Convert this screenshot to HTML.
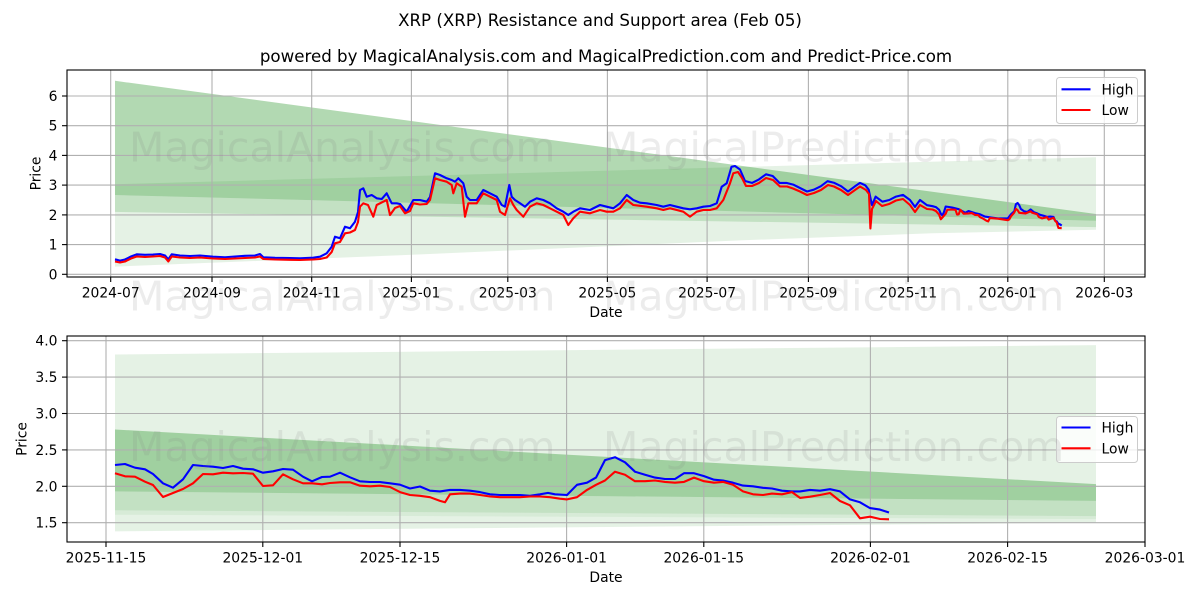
<!DOCTYPE html>
<html>
<head>
<meta charset="utf-8">
<style>
  html, body { margin: 0; padding: 0; background: #ffffff; }
  svg { display: block; }
  text { font-family: "DejaVu Sans", "Liberation Sans", sans-serif; fill: #000; }
  text.wm { fill: #808080; fill-opacity: 0.15; }
</style>
</head>
<body>
<svg width="1200" height="600" viewBox="0 0 1200 600" xmlns="http://www.w3.org/2000/svg">
  <defs>
    <clipPath id="c1"><rect x="67" y="70" width="1078" height="207"/></clipPath>
    <clipPath id="c2"><rect x="67" y="336" width="1078" height="206"/></clipPath>
  </defs>
  <rect x="0" y="0" width="1200" height="600" fill="#ffffff"/>

  <!-- Titles -->
  <text x="600" y="26" font-size="16.67" text-anchor="middle">XRP (XRP) Resistance and Support area (Feb 05)</text>
  <text x="606" y="62" font-size="16.67" text-anchor="middle">powered by MagicalAnalysis.com and MagicalPrediction.com and Predict-Price.com</text>

  <!-- ================= TOP CHART ================= -->
  <g clip-path="url(#c1)">
    <polygon points="115,184.2 1096,157.2 1096,229.7 932.6,233.3 740,240.4 400,255.3 115,266.6" fill="#008000" fill-opacity="0.1"/>
    <polygon points="115,80.8 1096,214.0 1096,220.8 115,195.0" fill="#008000" fill-opacity="0.3"/>
    <polygon points="115,195.0 1096,220.8 1096,227.1 115,211.9" fill="#008000" fill-opacity="0.15"/>
  </g>
  <g stroke="#b0b0b0" stroke-width="1.1">
    <line x1="110.7" y1="70" x2="110.7" y2="277"/>
    <line x1="212" y1="70" x2="212" y2="277"/>
    <line x1="311.7" y1="70" x2="311.7" y2="277"/>
    <line x1="411.4" y1="70" x2="411.4" y2="277"/>
    <line x1="507.8" y1="70" x2="507.8" y2="277"/>
    <line x1="607.4" y1="70" x2="607.4" y2="277"/>
    <line x1="707.1" y1="70" x2="707.1" y2="277"/>
    <line x1="808.4" y1="70" x2="808.4" y2="277"/>
    <line x1="908.1" y1="70" x2="908.1" y2="277"/>
    <line x1="1007.8" y1="70" x2="1007.8" y2="277"/>
    <line x1="1104.3" y1="70" x2="1104.3" y2="277"/>
    <line x1="67" y1="274.3" x2="1145" y2="274.3"/>
    <line x1="67" y1="244.6" x2="1145" y2="244.6"/>
    <line x1="67" y1="214.9" x2="1145" y2="214.9"/>
    <line x1="67" y1="185.1" x2="1145" y2="185.1"/>
    <line x1="67" y1="155.4" x2="1145" y2="155.4"/>
    <line x1="67" y1="125.7" x2="1145" y2="125.7"/>
    <line x1="67" y1="96" x2="1145" y2="96"/>
  </g>
  <g clip-path="url(#c1)" fill="none" stroke-width="2.1" stroke-linejoin="round">
    <path stroke="#0000ff" d="M115,259.3 L120,260.6 L125,259.5 L131,256.5 L136.7,254.3 L145,254.8 L153,254.5 L160,254 L165,255.5 L168.3,259.3 L171.7,254.3 L180,255.5 L190,256 L200,255.5 L213,256.7 L225,257.3 L235,256.5 L245,255.8 L255,255.5 L260,254 L263.3,257.3 L275,257.8 L290,258 L300,258.3 L313.3,257.7 L320,256.7 L326.7,253.3 L331.7,246.7 L335,236.7 L340,238.3 L345,226.7 L350,228.3 L355,221.7 L358,212 L360,190 L363.3,188.3 L366.7,196.7 L371.7,195 L376.7,198.3 L381.7,199 L386.7,193.3 L391.7,203.3 L396.7,203.3 L400,204 L406.7,211.7 L413.3,200 L420,200 L426.7,201.7 L430,197 L435,173.3 L440,175 L446.7,178.3 L451.7,180 L455,181.7 L458.3,178.3 L463.3,183.3 L466.7,196.7 L470,200 L476.7,200 L483.3,190 L490,193.3 L496.7,196.7 L501.7,205 L505,206.7 L509.3,185 L511.7,196.7 L515,200 L520,203.3 L525,206.7 L530,201.7 L536.7,198.3 L543.3,200 L550,203.3 L556.7,208.3 L563.3,211.7 L568.3,215 L573.3,211.7 L580,208.3 L590,210 L600,205 L606.7,206.7 L613.3,208.3 L620,203.3 L626.7,195 L633.3,200 L640,202.7 L646.7,203.3 L656.7,205 L663.3,206.7 L670,205 L676.7,206.7 L683.3,208.3 L690,209.3 L696.7,208.3 L703.3,206.7 L710,206 L716.7,203.3 L721.7,186.7 L726.7,183.3 L731.5,166.8 L735,166 L740,169.5 L745,181 L752,182.9 L759,179.4 L766,174.3 L772.7,176 L779.5,182.9 L786.4,182.9 L793.2,184.6 L800,188 L807,191.5 L813.8,189.7 L820.7,186.3 L827.5,181.2 L834.4,182.9 L841.3,186.3 L848,191.5 L855,186.3 L860,182.9 L865.3,185.3 L868.7,189.7 L872,205.2 L875.6,196.6 L882.4,201.7 L889.3,200 L896,196.6 L903,194.9 L910,200 L915,206.9 L920,200 L927,205.2 L932.6,206.2 L935.9,207.1 L939.1,209.8 L940.8,213.7 L942.4,215.5 L944,211.9 L945.7,206.5 L952.2,207.5 L958.7,209.2 L965.3,212.8 L968.5,211 L975.1,213.1 L980,214.3 L984.9,216.6 L991.4,217.5 L998,218.4 L1007.8,218.4 L1011,214.3 L1014.3,211.3 L1015.9,204.2 L1017.6,203 L1019.2,205.1 L1020.8,208.9 L1024.1,211.3 L1027.4,212 L1030.6,209.5 L1033.9,212.2 L1037.2,213.4 L1040.4,214.9 L1043.7,215.8 L1047,216.9 L1050.2,216.6 L1053.5,216.9 L1055.2,220.8 L1056.8,221.4 L1058.4,223.8 L1060.1,224.4 L1061.7,225.6"/>
    <path stroke="#ff0000" d="M115,261.5 L120,262.5 L125,261.5 L131,258.5 L136.7,256.5 L145,257 L153,256.5 L160,256 L165,257.5 L168.3,261.5 L171.7,256.5 L180,257.5 L190,258 L200,257.5 L213,258.5 L225,259 L235,258.5 L245,258 L255,257.5 L260,256.5 L263.3,259 L275,259.5 L290,259.8 L300,260 L313.3,259.5 L320,259 L326.7,257.5 L331.7,252 L335,243.3 L340,242 L345,233.3 L350,232.5 L355,230 L358,222 L360,206.7 L363.3,203.3 L368,205 L373.3,216.7 L376.7,205 L383.3,201.7 L386.7,200 L390,215 L395,208 L400,206 L405,213.3 L410,211 L413.3,203.3 L420,204.5 L426.7,204 L430,200 L435,178.3 L440,180 L446.7,181.7 L451.7,185 L453.3,193.3 L456.7,183.3 L461.7,186.7 L465,216.7 L468.3,203.3 L476.7,203.3 L483.3,193.3 L490,196.7 L496.7,200 L500,211.7 L505,215 L510,198.3 L513.3,205 L516.7,210 L523.3,216.7 L530,206.7 L536.7,203.3 L543.3,205 L550,208.3 L556.7,211.7 L563.3,215 L568.3,225 L573.3,218.3 L580,211.7 L590,213.3 L600,210 L606.7,211.7 L613.3,211.7 L620,208.3 L626.7,200 L633.3,205 L646.7,206.7 L656.7,208.3 L663.3,210 L670,208.3 L676.7,210 L683.3,211.7 L690,216.7 L696.7,211.7 L703.3,210 L710,210 L716.7,208.3 L723.3,200 L730,183.3 L733.3,173.3 L738,172 L742,178 L746,186 L752,186 L759,183 L766,178 L773,180 L780,186.5 L787,186.5 L793,188.5 L800,191.5 L807,195 L814,193 L821,190 L828,185 L834,186.5 L841,190 L848,195 L855,190 L860,186.5 L866,190 L869,194 L870.4,228.5 L872,209 L876,201 L882,206 L889,204 L896,200.5 L903,199 L910,205 L915,212 L920,205 L927,209 L932.6,209.5 L935.9,211 L939.1,214.6 L940.8,219.3 L942.4,217.5 L945.7,213.7 L947.3,209.8 L952.2,209.5 L955.5,209.8 L957.1,214.6 L958.7,214.3 L960.4,209.8 L963.6,213.7 L968.5,213.4 L971.8,213.1 L975.1,214.9 L978.4,215.2 L980,217.2 L983.3,218.7 L986.5,220.8 L988.2,221.4 L989.8,218.1 L998,218.7 L1007.8,220.2 L1009.4,219.3 L1011,216.3 L1014.3,212.5 L1015.9,208.9 L1017.6,210.1 L1019.2,212.8 L1025.7,213.4 L1030.6,211.3 L1032.3,212.8 L1037.2,214.3 L1038.8,216.9 L1042.1,218.4 L1047,217.2 L1048.6,219.6 L1053.5,217.8 L1055.2,220.8 L1056.8,222.6 L1058.4,227.9 L1061.7,228.2"/>
  </g>
  <rect x="67" y="70" width="1078" height="207" fill="none" stroke="#000" stroke-width="1.1"/>
  <g stroke="#000" stroke-width="1.1">
    <line x1="110.7" y1="277" x2="110.7" y2="282"/>
    <line x1="212" y1="277" x2="212" y2="282"/>
    <line x1="311.7" y1="277" x2="311.7" y2="282"/>
    <line x1="411.4" y1="277" x2="411.4" y2="282"/>
    <line x1="507.8" y1="277" x2="507.8" y2="282"/>
    <line x1="607.4" y1="277" x2="607.4" y2="282"/>
    <line x1="707.1" y1="277" x2="707.1" y2="282"/>
    <line x1="808.4" y1="277" x2="808.4" y2="282"/>
    <line x1="908.1" y1="277" x2="908.1" y2="282"/>
    <line x1="1007.8" y1="277" x2="1007.8" y2="282"/>
    <line x1="1104.3" y1="277" x2="1104.3" y2="282"/>
    <line x1="62" y1="274.3" x2="67" y2="274.3"/>
    <line x1="62" y1="244.6" x2="67" y2="244.6"/>
    <line x1="62" y1="214.9" x2="67" y2="214.9"/>
    <line x1="62" y1="185.1" x2="67" y2="185.1"/>
    <line x1="62" y1="155.4" x2="67" y2="155.4"/>
    <line x1="62" y1="125.7" x2="67" y2="125.7"/>
    <line x1="62" y1="96" x2="67" y2="96"/>
  </g>
  <g font-size="13.89" text-anchor="middle">
    <text x="110.7" y="297.3">2024-07</text>
    <text x="212" y="297.3">2024-09</text>
    <text x="311.7" y="297.3">2024-11</text>
    <text x="411.4" y="297.3">2025-01</text>
    <text x="507.8" y="297.3">2025-03</text>
    <text x="607.4" y="297.3">2025-05</text>
    <text x="707.1" y="297.3">2025-07</text>
    <text x="808.4" y="297.3">2025-09</text>
    <text x="908.1" y="297.3">2025-11</text>
    <text x="1007.8" y="297.3">2026-01</text>
    <text x="1104.3" y="297.3">2026-03</text>
  </g>
  <g font-size="13.89" text-anchor="end">
    <text x="57.5" y="279.3">0</text>
    <text x="57.5" y="249.6">1</text>
    <text x="57.5" y="219.9">2</text>
    <text x="57.5" y="190.1">3</text>
    <text x="57.5" y="160.4">4</text>
    <text x="57.5" y="130.7">5</text>
    <text x="57.5" y="101">6</text>
  </g>
  <text x="606" y="317" font-size="13.89" text-anchor="middle">Date</text>
  <text transform="translate(40.5,173.5) rotate(-90)" font-size="13.89" text-anchor="middle">Price</text>
  <rect x="1056.5" y="77.5" width="81" height="46" rx="3" fill="#ffffff" fill-opacity="0.8" stroke="#cccccc" stroke-width="1"/>
  <line x1="1061.5" y1="89.3" x2="1090.5" y2="89.3" stroke="#0000ff" stroke-width="2.1"/>
  <line x1="1061.5" y1="110" x2="1090.5" y2="110" stroke="#ff0000" stroke-width="2.1"/>
  <text x="1101.5" y="94.3" font-size="13.89">High</text>
  <text x="1101.5" y="115" font-size="13.89">Low</text>

  <!-- ================= BOTTOM CHART ================= -->
  <g clip-path="url(#c2)">
    <polygon points="115,354.5 1096,345.1 1096,522.7 115,531.4" fill="#008000" fill-opacity="0.1"/>
    <polygon points="115,429.5 1096,484.1 1096,500.9 115,491.4" fill="#008000" fill-opacity="0.3"/>
    <polygon points="115,491.4 1096,500.9 1096,516.1 115,510.3" fill="#008000" fill-opacity="0.15"/>
    <polygon points="115,510.3 1096,516.1 1096,519.1 115,514.7" fill="#008000" fill-opacity="0.06"/>
  </g>
  <g stroke="#b0b0b0" stroke-width="1.1">
    <line x1="106" y1="336" x2="106" y2="542"/>
    <line x1="262.8" y1="336" x2="262.8" y2="542"/>
    <line x1="400" y1="336" x2="400" y2="542"/>
    <line x1="566.6" y1="336" x2="566.6" y2="542"/>
    <line x1="703.8" y1="336" x2="703.8" y2="542"/>
    <line x1="870.4" y1="336" x2="870.4" y2="542"/>
    <line x1="1007.6" y1="336" x2="1007.6" y2="542"/>
    <line x1="67" y1="522.7" x2="1145" y2="522.7"/>
    <line x1="67" y1="486.3" x2="1145" y2="486.3"/>
    <line x1="67" y1="449.9" x2="1145" y2="449.9"/>
    <line x1="67" y1="413.5" x2="1145" y2="413.5"/>
    <line x1="67" y1="377.1" x2="1145" y2="377.1"/>
    <line x1="67" y1="340.7" x2="1145" y2="340.7"/>
  </g>
  <g clip-path="url(#c2)" fill="none" stroke-width="2.1" stroke-linejoin="round">
    <path stroke="#0000ff" d="M115,465 L125,464 L135,467.7 L145,469.3 L153,474 L163,483.3 L173,487.7 L183,479.3 L193,465 L203,466 L213,466.7 L223,468 L233,466 L243,468.7 L253,469.3 L263,472.7 L273,471.3 L283,469 L293,469.7 L303,476.7 L312,481.3 L322,477 L330,476.7 L340,472.7 L350,477.3 L360,481.3 L370,482 L380,482 L390,483.3 L400,484.7 L410,488.5 L420,486.5 L430,490.7 L440,491.4 L450,489.9 L460,489.9 L470,490.7 L480,492.1 L490,494.3 L500,495 L510,495 L520,495 L530,495.8 L540,494.3 L548,492.9 L555,494.3 L567,495 L577,484.8 L587,482.7 L596,477.6 L605,460.1 L615,457.2 L625,462.3 L635,471.7 L645,474.7 L655,477.6 L665,479 L675,479 L684,473.2 L694,473.2 L704,476.1 L714,479.7 L723,480.5 L733,482.7 L743,485.6 L753,486.3 L763,487.8 L772,488.5 L782,490.7 L792,491.4 L800,491.4 L810,489.9 L820,490.7 L830,489.2 L840,491.4 L850,499.4 L860,502.3 L870,508.1 L880,509.6 L889,512.5"/>
    <path stroke="#ff0000" d="M115,473.3 L125,476.3 L135,476.7 L145,481.7 L153,485 L163,497 L173,493 L183,489 L193,483.3 L203,474 L213,474.3 L223,472.7 L233,473.3 L243,473 L253,473.7 L263,486 L273,485.3 L283,474.3 L293,479.3 L303,483.3 L312,483.3 L322,484.3 L330,483 L340,482.3 L350,482.3 L360,485.7 L370,486.3 L380,485.7 L390,487 L400,492.1 L410,495 L420,495.8 L430,497.2 L440,500.9 L445,502.3 L450,494.3 L460,493.6 L470,493.6 L480,495 L490,496.5 L500,497.2 L510,497.2 L520,497.2 L530,496.5 L540,496.5 L550,497.2 L560,498.7 L567,499.4 L577,497.2 L587,489.9 L596,484.8 L605,480.5 L615,471.7 L625,474.7 L635,481.2 L645,481.2 L655,480.5 L665,481.9 L675,482.7 L684,481.9 L694,477.6 L704,481.2 L714,482.7 L723,481.9 L733,484.8 L743,491.4 L753,494.3 L763,495 L772,493.6 L782,494.3 L792,492.1 L800,497.9 L810,496.7 L820,495 L830,493 L840,501 L850,505.3 L860,518.3 L870,516.7 L880,519 L889,519.3"/>
  </g>
  <rect x="67" y="336" width="1078" height="206" fill="none" stroke="#000" stroke-width="1.1"/>
  <g stroke="#000" stroke-width="1.1">
    <line x1="106" y1="542" x2="106" y2="547"/>
    <line x1="262.8" y1="542" x2="262.8" y2="547"/>
    <line x1="400" y1="542" x2="400" y2="547"/>
    <line x1="566.6" y1="542" x2="566.6" y2="547"/>
    <line x1="703.8" y1="542" x2="703.8" y2="547"/>
    <line x1="870.4" y1="542" x2="870.4" y2="547"/>
    <line x1="1007.6" y1="542" x2="1007.6" y2="547"/>
    <line x1="1145" y1="542" x2="1145" y2="547"/>
    <line x1="62" y1="522.7" x2="67" y2="522.7"/>
    <line x1="62" y1="486.3" x2="67" y2="486.3"/>
    <line x1="62" y1="449.9" x2="67" y2="449.9"/>
    <line x1="62" y1="413.5" x2="67" y2="413.5"/>
    <line x1="62" y1="377.1" x2="67" y2="377.1"/>
    <line x1="62" y1="340.7" x2="67" y2="340.7"/>
  </g>
  <g font-size="13.89" text-anchor="middle">
    <text x="106" y="562.5">2025-11-15</text>
    <text x="262.8" y="562.5">2025-12-01</text>
    <text x="400" y="562.5">2025-12-15</text>
    <text x="566.6" y="562.5">2026-01-01</text>
    <text x="703.8" y="562.5">2026-01-15</text>
    <text x="870.4" y="562.5">2026-02-01</text>
    <text x="1007.6" y="562.5">2026-02-15</text>
    <text x="1145" y="562.5">2026-03-01</text>
  </g>
  <g font-size="13.89" text-anchor="end">
    <text x="57.5" y="527.7">1.5</text>
    <text x="57.5" y="491.3">2.0</text>
    <text x="57.5" y="454.9">2.5</text>
    <text x="57.5" y="418.5">3.0</text>
    <text x="57.5" y="382.1">3.5</text>
    <text x="57.5" y="345.7">4.0</text>
  </g>
  <text x="606" y="582" font-size="13.89" text-anchor="middle">Date</text>
  <text transform="translate(26.5,439) rotate(-90)" font-size="13.89" text-anchor="middle">Price</text>
  <rect x="1056.5" y="416.5" width="81" height="46" rx="3" fill="#ffffff" fill-opacity="0.8" stroke="#cccccc" stroke-width="1"/>
  <line x1="1061.5" y1="427.5" x2="1090.5" y2="427.5" stroke="#0000ff" stroke-width="2.1"/>
  <line x1="1061.5" y1="448.3" x2="1090.5" y2="448.3" stroke="#ff0000" stroke-width="2.1"/>
  <text x="1101.5" y="432.5" font-size="13.89">High</text>
  <text x="1101.5" y="453.3" font-size="13.89">Low</text>

  <!-- watermarks -->
  <g font-size="41">
    <text class="wm" x="129" y="161.7">MagicalAnalysis.com</text>
    <text class="wm" x="603" y="161.7">MagicalPrediction.com</text>
    <text class="wm" x="129" y="310.7">MagicalAnalysis.com</text>
    <text class="wm" x="603" y="310.7">MagicalPrediction.com</text>
    <text class="wm" x="129" y="461">MagicalAnalysis.com</text>
    <text class="wm" x="603" y="461">MagicalPrediction.com</text>
  </g>
</svg>
</body>
</html>
